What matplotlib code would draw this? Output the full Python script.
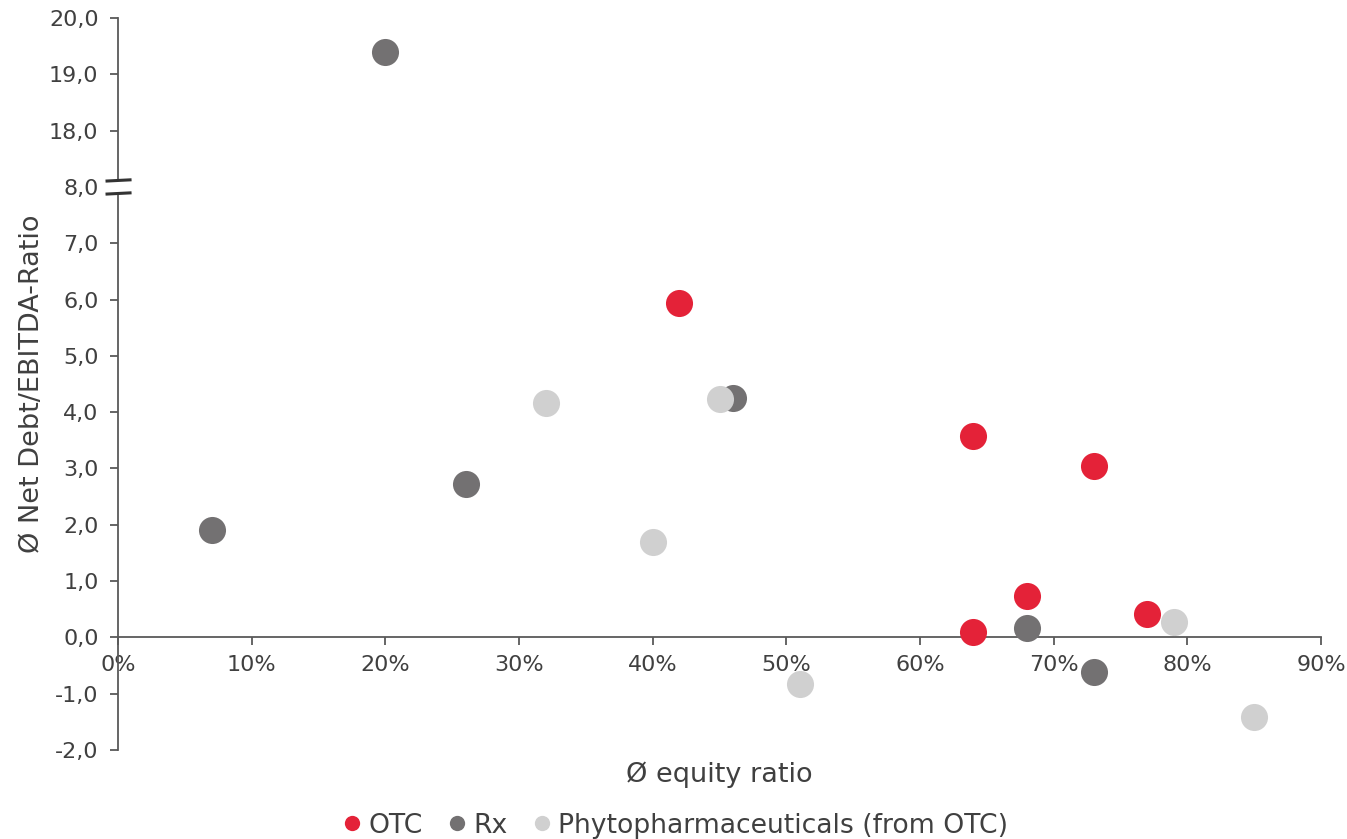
import numpy as np
import matplotlib
matplotlib.use("Agg")
import matplotlib.pyplot as plt
from matplotlib.lines import Line2D
from matplotlib.patches import Rectangle
from matplotlib.ticker import FuncFormatter, FixedLocator

plt.rcParams['font.family'] = ['DejaVu Sans']

# equity ratio (share) and net debt / EBITDA per company
otc_x = [0.42, 0.64, 0.73, 0.68, 0.64, 0.77]
otc_y = [5.93, 3.58, 3.05, 0.74, 0.10, 0.42]

rx_x = [0.20, 0.46, 0.26, 0.07, 0.68, 0.73]
rx_y = [19.39, 4.25, 2.73, 1.90, 0.17, -0.61]

phyto_x = [0.32, 0.45, 0.40, 0.51, 0.79, 0.85]
phyto_y = [4.17, 4.23, 1.70, -0.82, 0.28, -1.41]

y_ticks = [-2, -1, 0, 1, 2, 3, 4, 5, 6, 7, 8, 18, 19, 20]
x_ticks = [0, 0.1, 0.2, 0.3, 0.4, 0.5, 0.6, 0.7, 0.8, 0.9]

RED = '#E42238'
DARK = '#737172'
LIGHT = '#D0D0D0'
AXIS = '#595959'
TEXT = '#404040'


# broken y axis: 8..18 squeezed into a single unit
def fwd(y):
    y = np.asarray(y, dtype=float)
    return np.where(y <= 8, y, np.where(y >= 18, y - 9, 8 + (y - 8) * 0.1))


def inv(v):
    v = np.asarray(v, dtype=float)
    return np.where(v <= 8, v, np.where(v >= 9, v + 9, 8 + (v - 8) * 10))


fig = plt.figure(figsize=(13.47, 8.39), dpi=100)
ax = fig.add_axes([0.0876, 0.1061, 0.8931, 0.8724])
ax.set_yscale('function', functions=(fwd, inv))

s = 380
ax.scatter(otc_x, otc_y, s=s, color=RED, linewidths=0, zorder=3)
ax.scatter(rx_x, rx_y, s=s, color=DARK, linewidths=0, zorder=3)
ax.scatter(phyto_x, phyto_y, s=s, color=LIGHT, linewidths=0, zorder=3)

ax.set_xlim(0, 0.9)
ax.set_ylim(-2, 20)

ax.yaxis.set_major_locator(FixedLocator(y_ticks))
ax.yaxis.set_minor_locator(FixedLocator([]))
ax.yaxis.set_major_formatter(FuncFormatter(lambda v, p: f"{v:.1f}".replace('.', ',')))
ax.xaxis.set_major_locator(FixedLocator(x_ticks))
ax.xaxis.set_major_formatter(FuncFormatter(lambda v, p: f"{v * 100:.0f}%"))

for side in ['top', 'right']:
    ax.spines[side].set_visible(False)
ax.spines['bottom'].set_position(('data', 0))
for side in ['left', 'bottom']:
    ax.spines[side].set_color(AXIS)
    ax.spines[side].set_linewidth(1.3)

ax.tick_params(axis='both', colors=AXIS, labelcolor=TEXT, labelsize=16,
               length=6, width=1.3, direction='out')
ax.tick_params(axis='x', pad=7)
ax.tick_params(axis='y', pad=8)

# break marks on the y axis at 8,0
y8 = (fwd(8) - fwd(-2)) / (fwd(20) - fwd(-2))
gap = 0.0089
ax.add_patch(Rectangle((-0.012, y8 - gap), 0.024, 2 * gap, transform=ax.transAxes,
                       facecolor='white', edgecolor='none', clip_on=False, zorder=5))
for dy in (-gap, gap):
    ax.add_line(Line2D([-0.0091, 0.0100], [y8 + dy - 0.0008, y8 + dy + 0.0008],
                       transform=ax.transAxes, color='#333333', lw=2.2,
                       clip_on=False, zorder=6))

ax.set_xlabel('Ø equity ratio', fontsize=19.5, color=TEXT)
ax.xaxis.set_label_coords(0.5, -0.016)
ax.set_ylabel('Ø Net Debt/EBITDA-Ratio', fontsize=19.5, color=TEXT)
ax.yaxis.set_label_coords(-0.061, 0.5)

handles = [Line2D([], [], marker='o', ls='', markersize=11, color=c, markeredgewidth=0)
           for c in (RED, DARK, LIGHT)]
fig.legend(handles, ['OTC', 'Rx', 'Phytopharmaceuticals (from OTC)'],
           loc='center', bbox_to_anchor=(0.5, 0.016), ncol=3, frameon=False,
           fontsize=19.2, handletextpad=0.1, columnspacing=0.8, labelcolor=TEXT,
           handlelength=1.0)

fig.savefig('out.png', dpi=100)
